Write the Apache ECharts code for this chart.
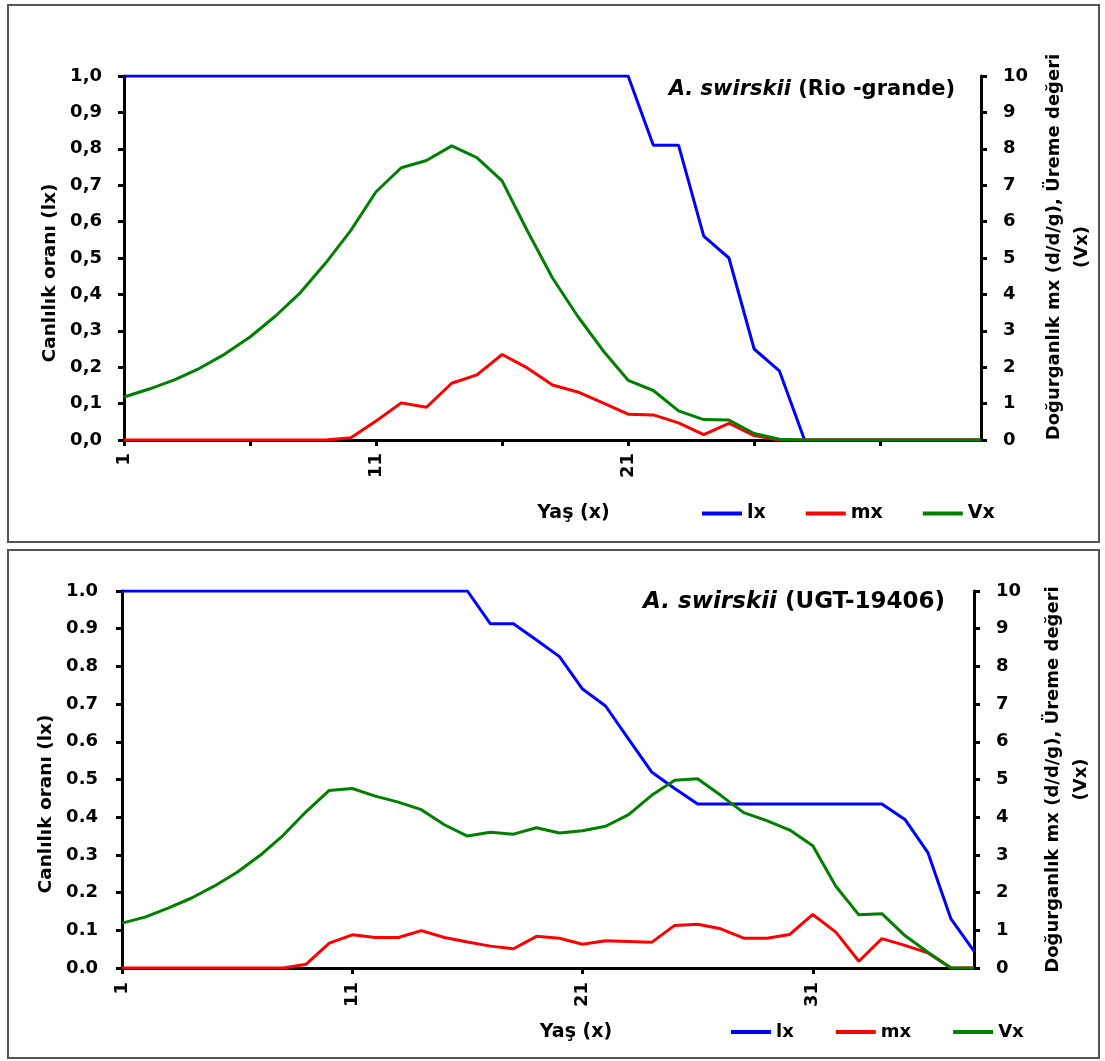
<!DOCTYPE html>
<html><head><meta charset="utf-8">
<script src="https://cdn.jsdelivr.net/npm/echarts@6/dist/echarts.min.js"></script>
<style>html,body{margin:0;padding:0;background:#fff}#c{width:1105px;height:1061px}</style>
</head><body><div id="c"></div>
<script>
// ---------- data ----------
const topAges = ['1','2','3','4','5','6','7','8','9','10','11','12','13','14','15','16','17','18','19','20','21','22','23','24','25','26','27','28','29','30','31','32','33','34','35'];
const topXLabels = ['1','11','21'];
const topLx = [1,1,1,1,1,1,1,1,1,1, 1,1,1,1,1,1,1,1,1,1, 1,0.81,0.81,0.56,0.50,0.25,0.19,0,0,0, 0,0,0,0,0];
const topMx = [0,0,0,0,0,0,0,0,0,0.06, 0.52,1.02,0.90,1.56,1.79,2.35,1.98,1.51,1.32,1.02, 0.71,0.69,0.47,0.15,0.46,0.12,0,0,0,0, 0,0,0,0,0];
const topVx = [1.18,1.40,1.65,1.97,2.36,2.83,3.40,4.05,4.86,5.76, 6.82,7.48,7.68,8.08,7.76,7.12,5.75,4.45,3.40,2.46, 1.64,1.36,0.80,0.56,0.55,0.18,0.02,0,0,0, 0,0,0,0,0];
const topLeftTicks = ['0,0','0,1','0,2','0,3','0,4','0,5','0,6','0,7','0,8','0,9','1,0'];
const topRightTicks = ['0','1','2','3','4','5','6','7','8','9','10'];

const botAges = ['1','2','3','4','5','6','7','8','9','10','11','12','13','14','15','16','17','18','19','20','21','22','23','24','25','26','27','28','29','30','31','32','33','34','35','36','37','38'];
const botXLabels = ['1','11','21','31'];
const botLx = [1,1,1,1,1,1,1,1,1,1, 1,1,1,1,1,1,0.913,0.913,0.87,0.826, 0.74,0.695,0.607,0.52,0.476,0.435,0.435,0.435,0.435,0.435, 0.435,0.435,0.435,0.435,0.394,0.306,0.13,0.045];
const botMx = [0,0,0,0,0,0,0,0,0.10,0.66, 0.88,0.81,0.81,0.99,0.81,0.69,0.58,0.51,0.84,0.79, 0.63,0.72,0.70,0.68,1.13,1.16,1.04,0.79,0.79,0.89, 1.42,0.95,0.18,0.78,0.60,0.40,0,0];
const botVx = [1.19,1.35,1.59,1.85,2.17,2.54,2.99,3.52,4.15,4.71, 4.76,4.56,4.40,4.20,3.80,3.50,3.60,3.55,3.72,3.58, 3.64,3.76,4.07,4.58,4.98,5.02,4.58,4.12,3.91,3.66, 3.24,2.17,1.41,1.44,0.86,0.42,0,0];
const botLeftTicks = ['0.0','0.1','0.2','0.3','0.4','0.5','0.6','0.7','0.8','0.9','1.0'];
const botRightTicks = ['0','1','2','3','4','5','6','7','8','9','10'];

const seriesNames = ['lx','mx','Vx'];
const colors = ['#0000FF','#FF0000','#008000'];

// ---------- chart ----------
const F = 'DejaVu Sans';
const txt = (size) => ({fontFamily: F, fontWeight: 'bold', fontSize: size, color: '#000'});
const axLine = {show: true, lineStyle: {color: '#000', width: 3}};
const axTick = (extra) => Object.assign({show: true, length: 6, lineStyle: {color: '#000', width: 3}}, extra || {});

function xAxisDef(grid, data, shown, tickEvery, margin, nameGap, namePadLeft) {
  return {
    type: 'category', gridIndex: grid, data: data, boundaryGap: false,
    axisLine: axLine,
    axisTick: axTick({interval: (i) => i % tickEvery === 0}),
    axisLabel: Object.assign(txt(18), {interval: (i, v) => shown.includes(v), rotate: 90, margin: margin}),
    splitLine: {show: false},
    name: 'Yaş (x)', nameLocation: 'middle', nameGap: nameGap,
    nameTextStyle: Object.assign(txt(19), {padding: [0, 0, 0, namePadLeft]})
  };
}
function leftAxisDef(grid, labels, margin, nameGap, padRight) {
  return {
    type: 'value', gridIndex: grid, position: 'left', min: 0, max: 1, interval: 0.1,
    axisLine: axLine, axisTick: axTick(), splitLine: {show: false},
    axisLabel: Object.assign(txt(18), {margin: margin, formatter: (v) => labels[Math.round(v * 10)]}),
    name: 'Canlılık oranı (lx)', nameLocation: 'middle', nameRotate: 90, nameGap: nameGap,
    nameTextStyle: Object.assign(txt(18.5), {padding: [0, padRight, 0, 0]})
  };
}
function rightAxisDef(grid, labels, margin, nameGap, padLeft) {
  return {
    type: 'value', gridIndex: grid, position: 'right', min: 0, max: 10, interval: 1,
    axisLine: axLine, axisTick: axTick(), splitLine: {show: false},
    axisLabel: Object.assign(txt(18), {margin: margin, formatter: (v) => labels[Math.round(v)]}),
    name: 'Doğurganlık mx (d/d/g), Üreme değeri\n(Vx)', nameLocation: 'middle', nameRotate: 90, nameGap: nameGap,
    nameTextStyle: Object.assign(txt(18), {lineHeight: 28, padding: [0, 0, 0, padLeft]})
  };
}
function lineSeries(name, xi, yi, data, color) {
  return {type: 'line', name: name, xAxisIndex: xi, yAxisIndex: yi, data: data,
    symbol: 'none', lineStyle: {color: color, width: 3}, itemStyle: {color: color}};
}

const option = {
  animation: false,
  backgroundColor: '#fff',
  graphic: [
    {type: 'rect', silent: true, shape: {x: 8, y: 5, width: 1091, height: 537}, style: {fill: 'none', stroke: '#555', lineWidth: 2}},
    {type: 'rect', silent: true, shape: {x: 8, y: 550, width: 1091, height: 508}, style: {fill: 'none', stroke: '#555', lineWidth: 2}}
  ],
  title: [
    {text: '{i|A. swirskii} (Rio -grande)', right: 150, top: 79, padding: 0,
     textStyle: Object.assign(txt(21), {rich: {i: Object.assign(txt(21), {fontStyle: 'italic'})}})},
    {text: '{i|A. swirskii} (UGT-19406)', right: 160, top: 591, padding: 0,
     textStyle: Object.assign(txt(23), {rich: {i: Object.assign(txt(23), {fontStyle: 'italic'})}})}
  ],
  legend: [
    {data: seriesNames, left: 702, top: 504, padding: 0, icon: 'rect', itemWidth: 40, itemHeight: 4, itemGap: 40, textStyle: txt(19)},
    {data: seriesNames, left: 731, top: 1023, padding: 0, icon: 'rect', itemWidth: 40, itemHeight: 4, itemGap: 42, textStyle: txt(18)}
  ],
  grid: [
    {left: 124, right: 124, top: 76, height: 364},
    {left: 122, right: 131, top: 591, height: 377}
  ],
  xAxis: [
    xAxisDef(0, topAges, topXLabels, 5, 13, 64, 42),
    xAxisDef(1, botAges, botXLabels, 10, 14, 55, 56)
  ],
  yAxis: [
    leftAxisDef(0, topLeftTicks, 22, 63, 30),
    rightAxisDef(0, topRightTicks, 22, 59, 22),
    leftAxisDef(1, botLeftTicks, 24, 63, 49),
    rightAxisDef(1, botRightTicks, 22, 65, 0)
  ],
  series: [
    lineSeries('lx', 0, 0, topLx, colors[0]),
    lineSeries('mx', 0, 1, topMx, colors[1]),
    lineSeries('Vx', 0, 1, topVx, colors[2]),
    lineSeries('lx', 1, 2, botLx, colors[0]),
    lineSeries('mx', 1, 3, botMx, colors[1]),
    lineSeries('Vx', 1, 3, botVx, colors[2])
  ]
};
const chart = echarts.init(document.getElementById('c'), null, {renderer: 'canvas'});
chart.setOption(option);
</script></body></html>
